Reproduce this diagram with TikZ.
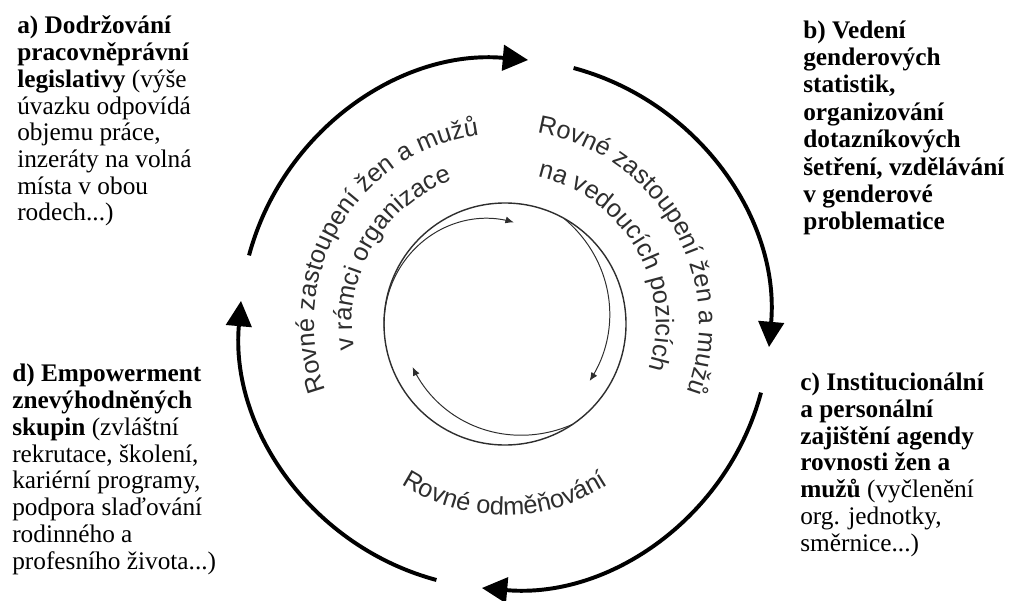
\documentclass[tikz,border=0pt]{standalone}
\usepackage{fontspec}
\setmainfont{Liberation Serif}
\newfontfamily\arcfont{Liberation Sans}
\usetikzlibrary{arrows.meta,decorations.text,calc}
\definecolor{inkgrey}{HTML}{2E2E2E}

\begin{document}
\begin{tikzpicture}[x=0.025cm, y=0.025cm]
        \tikzstyle{every node}=[inner sep=0pt, align=left, anchor=base west, font=\fontsize{18pt}{19pt}\selectfont]
        \tikzstyle{boldnote}=[font=\fontsize{18pt}{19.5pt}\selectfont\bfseries]
        \tikzstyle{cycle arc}=[line width=2.8pt, -{Triangle[length=18pt, width=18pt]}]
        \tikzstyle{inner arc}=[line width=0.7pt, inkgrey, -{Latex[length=6pt, width=5pt]}]
        \tikzstyle{arc text}=[decorate, decoration={text along path, text align=center, text color=inkgrey}]
        \useasboundingbox (0,0) rectangle (1010,600);
        \coordinate (hub) at (505,276);
        \foreach \a in {165,75,-15,-105} {
            \draw[cycle arc] ($(hub)+(\a:265)$) arc[start angle=\a, end angle=\a-80, radius=265];
        }
        \draw[line width=1pt, inkgrey] (hub) circle[radius=121];
        \draw[inner arc, shift={(hub)}] plot[domain=0:1, samples=40, smooth] ({(121-19*\x*\x)*cos(182-97*\x)}, {(121-19*\x*\x)*sin(182-97*\x)});
        \draw[inner arc, shift={(hub)}] plot[domain=0:1, samples=40, smooth] ({(102+19*(1-\x)*(1-\x))*cos(61-95*\x)}, {(102+19*(1-\x)*(1-\x))*sin(61-95*\x)});
        \draw[inner arc, shift={(hub)}] plot[domain=0:1, samples=40, smooth] ({(102+19*(1-\x)*(1-\x))*cos(-56-99*\x)}, {(102+19*(1-\x)*(1-\x))*sin(-56-99*\x)});
        \path[arc text, decoration={text={|\arcfont\fontsize{18pt}{18pt}\selectfont|Rovné zastoupení žen a mužů}}] ($(hub)+(209:191)$) arc[start angle=209, end angle=89, radius=191];
        \path[arc text, decoration={text={|\arcfont\fontsize{18pt}{18pt}\selectfont|v rámci organizace}}] ($(hub)+(210:153)$) arc[start angle=210, end angle=90, radius=153];
        \path[arc text, decoration={text={|\arcfont\fontsize{18pt}{18pt}\selectfont|Rovné zastoupení žen a mužů}}] ($(hub)+(90:194)$) arc[start angle=90, end angle=-30, radius=194];
        \path[arc text, decoration={text={|\arcfont\fontsize{18pt}{18pt}\selectfont|na vedoucích pozicích}}] ($(hub)+(90:151)$) arc[start angle=90, end angle=-30, radius=151];
        \path[arc text, decoration={text={|\arcfont\fontsize{18pt}{18pt}\selectfont|Rovné odměňování}}] ($(hub)+(-150:191)$) arc[start angle=-150, end angle=-30, radius=191];
        \node (rules) at (17,379) {\textbf{a) Dodržování}\\ \textbf{pracovněprávní}\\ \textbf{legislativy} (výše\\ úvazku odpovídá\\ objemu práce,\\ inzeráty na volná\\ místa v obou\\ rodech...)};
        \node[boldnote] (stats) at (803,370) {b) Vedení\\ genderových\\ statistik,\\ organizování\\ dotazníkových\\ šetření, vzdělávání\\ v genderové\\ problematice};
        \node (agenda) at (800,49) {\textbf{c) Institucionální}\\ \textbf{a personální}\\ \textbf{zajištění agendy}\\ \textbf{rovnosti žen a}\\ \textbf{mužů} (vyčlenění\\ org. jednotky,\\ směrnice...)};
        \node (empower) at (12,31) {\textbf{d) Empowerment}\\ \textbf{znevýhodněných}\\ \textbf{skupin} (zvláštní\\ rekrutace, školení,\\ kariérní programy,\\ podpora slaďování\\ rodinného a\\ profesního života...)};
\end{tikzpicture}
\end{document}
